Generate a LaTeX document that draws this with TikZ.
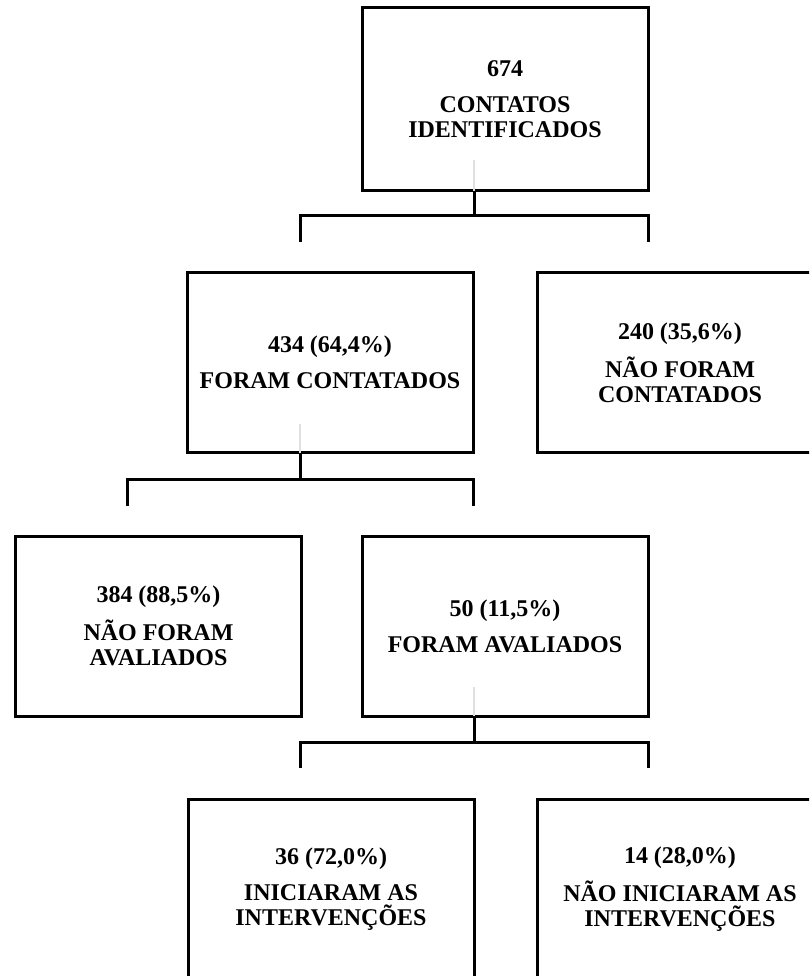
\documentclass[tikz,border=0pt]{standalone}
\usepackage{fontspec}
\setmainfont{Liberation Serif}
\begin{document}
\begin{tikzpicture}[x=1pt,y=-1pt]
\tikzset{
  box/.style={draw, line width=3pt, minimum width=286pt, minimum height=180pt,
    align=center, font=\bfseries\fontsize{24}{25}\selectfont, inner sep=0pt, outer sep=0pt},
  conn/.style={line width=3pt},
  ghost/.style={line width=2.5pt, draw=black!12},
}
\useasboundingbox (0,0) rectangle (809,976);
\fill[white] (0,0) rectangle (809,976);
\clip (0,0) rectangle (809,976);

\node[box, minimum height=183pt] (top) at (505,99.5) {674\\[11pt]CONTATOS\\IDENTIFICADOS};
\node[box] (cont) at (330,362.5) {434 (64,4\%)\\[11pt]FORAM CONTATADOS};
\node[box] (ncont) at (680,362.5) {240 (35,6\%)\\[11pt]NÃO FORAM\\CONTATADOS};
\node[box] (naval) at (158.5,626) {384 (88,5\%)\\[11pt]NÃO FORAM\\AVALIADOS};
\node[box] (aval) at (505,626) {50 (11,5\%)\\[11pt]FORAM AVALIADOS};
\node[box] (inic) at (331,889) {36 (72,0\%)\\[11pt]INICIARAM AS\\INTERVENÇÕES};
\node[box] (ninic) at (680,889) {14 (28,0\%)\\[11pt]NÃO INICIARAM AS\\INTERVENÇÕES};

% level 1
\coordinate (s1) at ([xshift=-31pt]top.south);
\draw[ghost] (s1) -- ++(0,-31);
\draw[conn] (s1) -- ++(0,25) coordinate (j1);
\coordinate (l1) at (300,242);
\coordinate (r1) at (648,242);
\draw[conn] (l1) |- (j1) -| (r1);

% level 2
\coordinate (s2) at ([xshift=-30pt]cont.south);
\draw[ghost] (s2) -- ++(0,-29);
\draw[conn] (s2) -- ++(0,27) coordinate (j2);
\coordinate (l2) at (127,506);
\coordinate (r2) at (473,506);
\draw[conn] (l2) |- (j2) -| (r2);

% level 3
\coordinate (s3) at ([xshift=-31pt]aval.south);
\draw[ghost] (s3) -- ++(0,-29);
\draw[conn] (s3) -- ++(0,26) coordinate (j3);
\coordinate (l3) at (300,768);
\coordinate (r3) at (648,768);
\draw[conn] (l3) |- (j3) -| (r3);
\end{tikzpicture}
\end{document}
